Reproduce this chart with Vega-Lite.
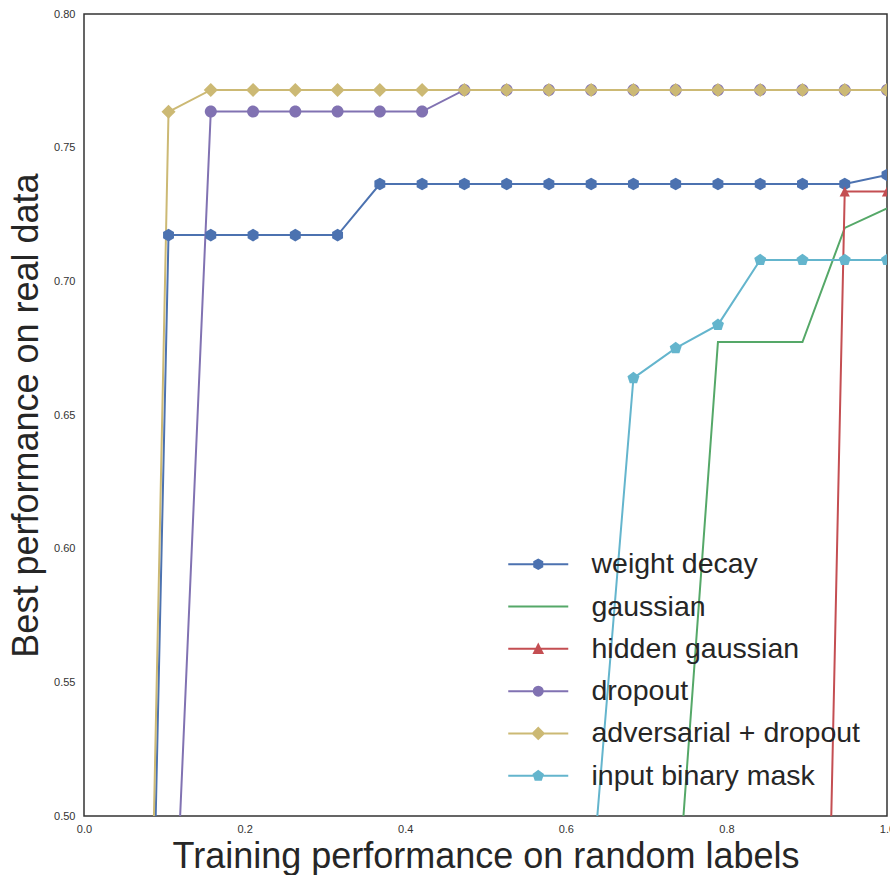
{
  "$schema": "https://vega.github.io/schema/vega-lite/v6.json",
  "autosize": {"type": "none"},
  "padding": {"left": 84, "top": 14, "right": 3, "bottom": 59},
  "width": 803,
  "height": 802,
  "background": "white",
  "config": {
    "font": "Liberation Sans",
    "view": {"stroke": "#333333", "strokeWidth": 1.5},
    "axis": {"domain": false, "ticks": false, "grid": false, "labelFontSize": 11, "labelColor": "#333333", "titleFontSize": 36, "titleFontWeight": "normal", "titleColor": "#262626", "labelFont": "Liberation Sans", "titleFont": "Liberation Sans"}
  },
  "data": {"values": [
    {"x": 0, "y": 0, "s": "weight decay"},
    {"x": 0.05263, "y": 0, "s": "weight decay"},
    {"x": 0.10526, "y": 0.7173, "s": "weight decay"},
    {"x": 0.15789, "y": 0.7173, "s": "weight decay"},
    {"x": 0.21053, "y": 0.7173, "s": "weight decay"},
    {"x": 0.26316, "y": 0.7173, "s": "weight decay"},
    {"x": 0.31579, "y": 0.7173, "s": "weight decay"},
    {"x": 0.36842, "y": 0.7364, "s": "weight decay"},
    {"x": 0.42105, "y": 0.7364, "s": "weight decay"},
    {"x": 0.47368, "y": 0.7364, "s": "weight decay"},
    {"x": 0.52632, "y": 0.7364, "s": "weight decay"},
    {"x": 0.57895, "y": 0.7364, "s": "weight decay"},
    {"x": 0.63158, "y": 0.7364, "s": "weight decay"},
    {"x": 0.68421, "y": 0.7364, "s": "weight decay"},
    {"x": 0.73684, "y": 0.7364, "s": "weight decay"},
    {"x": 0.78947, "y": 0.7364, "s": "weight decay"},
    {"x": 0.84211, "y": 0.7364, "s": "weight decay"},
    {"x": 0.89474, "y": 0.7364, "s": "weight decay"},
    {"x": 0.94737, "y": 0.7364, "s": "weight decay"},
    {"x": 1.0, "y": 0.7398, "s": "weight decay"},

    {"x": 0, "y": 0, "s": "gaussian"},
    {"x": 0.05263, "y": 0, "s": "gaussian"},
    {"x": 0.10526, "y": 0, "s": "gaussian"},
    {"x": 0.15789, "y": 0, "s": "gaussian"},
    {"x": 0.21053, "y": 0, "s": "gaussian"},
    {"x": 0.26316, "y": 0, "s": "gaussian"},
    {"x": 0.31579, "y": 0, "s": "gaussian"},
    {"x": 0.36842, "y": 0, "s": "gaussian"},
    {"x": 0.42105, "y": 0, "s": "gaussian"},
    {"x": 0.47368, "y": 0, "s": "gaussian"},
    {"x": 0.52632, "y": 0, "s": "gaussian"},
    {"x": 0.57895, "y": 0, "s": "gaussian"},
    {"x": 0.63158, "y": 0, "s": "gaussian"},
    {"x": 0.68421, "y": 0, "s": "gaussian"},
    {"x": 0.73684, "y": 0.46, "s": "gaussian"},
    {"x": 0.78947, "y": 0.6773, "s": "gaussian"},
    {"x": 0.84211, "y": 0.6773, "s": "gaussian"},
    {"x": 0.89474, "y": 0.6773, "s": "gaussian"},
    {"x": 0.94737, "y": 0.72, "s": "gaussian"},
    {"x": 1.0, "y": 0.7273, "s": "gaussian"},

    {"x": 0, "y": 0, "s": "hidden gaussian"},
    {"x": 0.05263, "y": 0, "s": "hidden gaussian"},
    {"x": 0.10526, "y": 0, "s": "hidden gaussian"},
    {"x": 0.15789, "y": 0, "s": "hidden gaussian"},
    {"x": 0.21053, "y": 0, "s": "hidden gaussian"},
    {"x": 0.26316, "y": 0, "s": "hidden gaussian"},
    {"x": 0.31579, "y": 0, "s": "hidden gaussian"},
    {"x": 0.36842, "y": 0, "s": "hidden gaussian"},
    {"x": 0.42105, "y": 0, "s": "hidden gaussian"},
    {"x": 0.47368, "y": 0, "s": "hidden gaussian"},
    {"x": 0.52632, "y": 0, "s": "hidden gaussian"},
    {"x": 0.57895, "y": 0, "s": "hidden gaussian"},
    {"x": 0.63158, "y": 0, "s": "hidden gaussian"},
    {"x": 0.68421, "y": 0, "s": "hidden gaussian"},
    {"x": 0.73684, "y": 0, "s": "hidden gaussian"},
    {"x": 0.78947, "y": 0, "s": "hidden gaussian"},
    {"x": 0.84211, "y": 0, "s": "hidden gaussian"},
    {"x": 0.89474, "y": 0, "s": "hidden gaussian"},
    {"x": 0.94737, "y": 0.7336, "s": "hidden gaussian"},
    {"x": 1.0, "y": 0.7336, "s": "hidden gaussian"},

    {"x": 0, "y": 0, "s": "dropout"},
    {"x": 0.05263, "y": 0, "s": "dropout"},
    {"x": 0.10526, "y": 0.4, "s": "dropout"},
    {"x": 0.15789, "y": 0.7635, "s": "dropout"},
    {"x": 0.21053, "y": 0.7635, "s": "dropout"},
    {"x": 0.26316, "y": 0.7635, "s": "dropout"},
    {"x": 0.31579, "y": 0.7635, "s": "dropout"},
    {"x": 0.36842, "y": 0.7635, "s": "dropout"},
    {"x": 0.42105, "y": 0.7635, "s": "dropout"},
    {"x": 0.47368, "y": 0.7716, "s": "dropout"},
    {"x": 0.52632, "y": 0.7716, "s": "dropout"},
    {"x": 0.57895, "y": 0.7716, "s": "dropout"},
    {"x": 0.63158, "y": 0.7716, "s": "dropout"},
    {"x": 0.68421, "y": 0.7716, "s": "dropout"},
    {"x": 0.73684, "y": 0.7716, "s": "dropout"},
    {"x": 0.78947, "y": 0.7716, "s": "dropout"},
    {"x": 0.84211, "y": 0.7716, "s": "dropout"},
    {"x": 0.89474, "y": 0.7716, "s": "dropout"},
    {"x": 0.94737, "y": 0.7716, "s": "dropout"},
    {"x": 1.0, "y": 0.7716, "s": "dropout"},

    {"x": 0, "y": 0, "s": "adversarial + dropout"},
    {"x": 0.05263, "y": 0, "s": "adversarial + dropout"},
    {"x": 0.10526, "y": 0.7634, "s": "adversarial + dropout"},
    {"x": 0.15789, "y": 0.7716, "s": "adversarial + dropout"},
    {"x": 0.21053, "y": 0.7716, "s": "adversarial + dropout"},
    {"x": 0.26316, "y": 0.7716, "s": "adversarial + dropout"},
    {"x": 0.31579, "y": 0.7716, "s": "adversarial + dropout"},
    {"x": 0.36842, "y": 0.7716, "s": "adversarial + dropout"},
    {"x": 0.42105, "y": 0.7716, "s": "adversarial + dropout"},
    {"x": 0.47368, "y": 0.7716, "s": "adversarial + dropout"},
    {"x": 0.52632, "y": 0.7716, "s": "adversarial + dropout"},
    {"x": 0.57895, "y": 0.7716, "s": "adversarial + dropout"},
    {"x": 0.63158, "y": 0.7716, "s": "adversarial + dropout"},
    {"x": 0.68421, "y": 0.7716, "s": "adversarial + dropout"},
    {"x": 0.73684, "y": 0.7716, "s": "adversarial + dropout"},
    {"x": 0.78947, "y": 0.7716, "s": "adversarial + dropout"},
    {"x": 0.84211, "y": 0.7716, "s": "adversarial + dropout"},
    {"x": 0.89474, "y": 0.7716, "s": "adversarial + dropout"},
    {"x": 0.94737, "y": 0.7716, "s": "adversarial + dropout"},
    {"x": 1.0, "y": 0.7716, "s": "adversarial + dropout"},

    {"x": 0, "y": 0, "s": "input binary mask"},
    {"x": 0.05263, "y": 0, "s": "input binary mask"},
    {"x": 0.10526, "y": 0, "s": "input binary mask"},
    {"x": 0.15789, "y": 0, "s": "input binary mask"},
    {"x": 0.21053, "y": 0, "s": "input binary mask"},
    {"x": 0.26316, "y": 0, "s": "input binary mask"},
    {"x": 0.31579, "y": 0, "s": "input binary mask"},
    {"x": 0.36842, "y": 0, "s": "input binary mask"},
    {"x": 0.42105, "y": 0, "s": "input binary mask"},
    {"x": 0.47368, "y": 0, "s": "input binary mask"},
    {"x": 0.52632, "y": 0, "s": "input binary mask"},
    {"x": 0.57895, "y": 0, "s": "input binary mask"},
    {"x": 0.63158, "y": 0.472, "s": "input binary mask"},
    {"x": 0.68421, "y": 0.6638, "s": "input binary mask"},
    {"x": 0.73684, "y": 0.675, "s": "input binary mask"},
    {"x": 0.78947, "y": 0.6837, "s": "input binary mask"},
    {"x": 0.84211, "y": 0.708, "s": "input binary mask"},
    {"x": 0.89474, "y": 0.708, "s": "input binary mask"},
    {"x": 0.94737, "y": 0.708, "s": "input binary mask"},
    {"x": 1.0, "y": 0.708, "s": "input binary mask"}
  ]},
  "encoding": {
    "x": {"field": "x", "type": "quantitative", "scale": {"domain": [0, 1], "nice": false, "zero": false},
      "axis": {"title": "Training performance on random labels", "values": [0, 0.2, 0.4, 0.6, 0.8, 1.0], "format": ".1f", "labelFlush": false, "labelPadding": 7, "titlePadding": 5}},
    "y": {"field": "y", "type": "quantitative", "scale": {"domain": [0.5, 0.8], "nice": false, "zero": false},
      "axis": {"title": "Best performance on real data", "values": [0.5, 0.55, 0.6, 0.65, 0.7, 0.75, 0.8], "format": ".2f", "labelPadding": 9, "titlePadding": 8}},
    "color": {"field": "s", "type": "nominal",
      "scale": {"domain": ["weight decay", "gaussian", "hidden gaussian", "dropout", "adversarial + dropout", "input binary mask"],
                "range": ["#4C72B0", "#55A868", "#C44E52", "#8172B2", "#CCB974", "#64B5CD"]},
      "legend": {"orient": "none", "legendX": 440, "legendY": 536, "title": null, "padding": 0, "rowPadding": 13.3,
        "symbolOffset": 0, "labelOffset": 39, "labelFontSize": 28.5, "labelLimit": 0, "labelColor": "#262626", "labelFont": "Liberation Sans",
        "symbolSize": 400, "symbolStrokeWidth": 2,
        "encode": {"symbols": {"update": {
          "shape": {"signal": "datum.value === 'weight decay' ? 'M-3,0H3M0,-0.46L0.4,-0.23L0.4,0.23L0,0.46L-0.4,0.23L-0.4,-0.23Z' : datum.value === 'gaussian' ? 'M-3,0H3' : datum.value === 'hidden gaussian' ? 'M-3,0H3M0,-0.42L0.42,0.42L-0.42,0.42Z' : datum.value === 'dropout' ? 'M-3,0H3M0.45,0A0.45,0.45,0,1,1,-0.45,0A0.45,0.45,0,1,1,0.45,0Z' : datum.value === 'adversarial + dropout' ? 'M-3,0H3M0,-0.55L0.55,0L0,0.55L-0.55,0Z' : 'M-3,0H3M0,-0.48L0.456,-0.148L0.282,0.388L-0.282,0.388L-0.456,-0.148Z'"},
          "size": {"value": 400},
          "strokeWidth": {"value": 2},
          "stroke": {"scale": "color", "field": "value"},
          "fill": {"scale": "color", "field": "value"},
          "opacity": {"value": 1}
        }}}
      }}
  },
  "layer": [
    {"mark": {"type": "line", "clip": true, "strokeWidth": 2}},
    {"transform": [{"filter": "datum.s !== 'gaussian'"}],
     "mark": {"type": "point", "clip": true, "filled": true, "size": 144, "opacity": 1, "strokeWidth": 0},
     "encoding": {"shape": {"field": "s", "type": "nominal", "legend": null,
       "scale": {"domain": ["weight decay", "hidden gaussian", "dropout", "adversarial + dropout", "input binary mask"],
                 "range": ["M0,-1.05L0.909,-0.525L0.909,0.525L0,1.05L-0.909,0.525L-0.909,-0.525Z",
                           "M0,-0.85L0.85,0.85L-0.85,0.85Z",
                           "M1,0A1,1,0,1,1,-1,0A1,1,0,1,1,1,0Z",
                           "M0,-1.17L1.17,0L0,1.17L-1.17,0Z",
                           "M0,-1.05L0.999,-0.324L0.617,0.849L-0.617,0.849L-0.999,-0.324Z"]}}}}
  ]
}
